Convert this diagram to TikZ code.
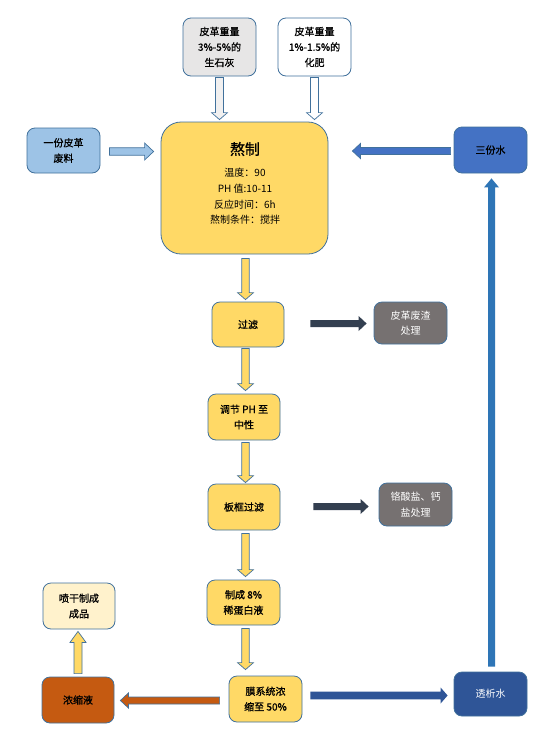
\documentclass[tikz,border=0pt]{standalone}
\usepackage{fontspec}
\setmainfont{Noto Sans CJK SC}[FakeBold=0.9]
\newfontfamily\plainf{Noto Sans CJK SC}
\usetikzlibrary{calc}
\definecolor{bd}{HTML}{41719C}
\definecolor{yel}{HTML}{FFD966}
\definecolor{lgray}{HTML}{E7E6E6}
\definecolor{lblue}{HTML}{9DC3E6}
\definecolor{mblue}{HTML}{4472C4}
\definecolor{dblue}{HTML}{2F5597}
\definecolor{vblue}{HTML}{2E75B6}
\definecolor{navy}{HTML}{333F50}
\definecolor{gbox}{HTML}{767171}
\definecolor{brown}{HTML}{C55A11}
\definecolor{cream}{HTML}{FFF2CC}
\newcommand\blockarrow[6]{%
 \path[#1] let \p1=(#2), \p2=(#3), \n1={veclen(\x2-\x1,\y2-\y1)}, \n2={(\x2-\x1)/\n1}, \n3={(\y2-\y1)/\n1}, \n4={\n1-#6} in
 ({\x1-#4*\n3},{\y1+#4*\n2}) --
 ({\x1+\n4*\n2-#4*\n3},{\y1+\n4*\n3+#4*\n2}) --
 ({\x1+\n4*\n2-#5*\n3},{\y1+\n4*\n3+#5*\n2}) --
 (\p2) --
 ({\x1+\n4*\n2+#5*\n3},{\y1+\n4*\n3-#5*\n2}) --
 ({\x1+\n4*\n2+#4*\n3},{\y1+\n4*\n3-#4*\n2}) --
 ({\x1+#4*\n3},{\y1-#4*\n2}) -- cycle;}
\tikzset{
 box/.style={draw=bd, line width=0.8pt, rounded corners=8pt, align=center, inner sep=0pt,
   font=\fontsize{10}{15.5}\selectfont, text=black, minimum width=73pt, minimum height=46pt},
 wbox/.style={box, text=white, font=\plainf\fontsize{10}{15.5}\selectfont},
 arr/.style={draw=bd, line width=0.7pt, line join=miter},
 flat/.style={line join=miter}
}
\begin{document}
\begin{tikzpicture}[x=1pt,y=-1pt]
\fill[white] (0,0) rectangle (533,729);
\useasboundingbox (0,0) rectangle (533,729);
% nodes
\node[box, fill=lgray, minimum height=58pt] (lime) at (219.5,47) {皮革重量\\3\%-5\%的\\生石灰};
\node[box, fill=white, minimum height=58pt] (fert) at (314.5,47) {皮革重量\\1\%-1.5\%的\\化肥};
\node[box, fill=lblue, minimum height=45pt] (waste) at (63.5,150.5) {一份皮革\\废料};
\node[box, fill=yel, rounded corners=20pt, minimum width=167pt, minimum height=132pt] (main) at (244.5,188) {};
\node[font=\fontsize{15}{17}\selectfont] (maintitle) at (245,149) {熬制};
\node[align=center, font=\plainf\fontsize{10}{15.7}\selectfont, inner sep=0pt] (mainbody) at (245,196.5) {温度：90\\PH 值:10-11\\反应时间：6h\\熬制条件：搅拌};
\node[box, fill=mblue] (water3) at (490.5,150) {三份水};
\node[box, fill=yel, minimum width=72pt, minimum height=45pt] (gl) at (248,324.5) {过滤};
\node[wbox, fill=gbox, minimum height=42pt] (slag) at (410.5,323) {皮革废渣\\处理};
\node[box, fill=yel, minimum width=72pt] (ph) at (244,417) {调节 PH 至\\中性};
\node[box, fill=yel, minimum width=72pt] (bk) at (244,507) {板框过滤};
\node[wbox, fill=gbox, minimum height=43pt] (cr) at (415.5,504.5) {铬酸盐、钙\\盐处理};
\node[box, fill=yel, minimum height=45pt] (make8) at (243.5,602.5) {制成 8\%\\稀蛋白液};
\node[box, fill=yel] (mem) at (265.5,699) {膜系统浓\\缩至 50\%};
\node[box, fill=brown, minimum width=72pt] (conc) at (78,700) {浓缩液};
\node[box, fill=cream, minimum width=72pt] (spray) at (79,606) {喷干制成\\成品};
\node[wbox, fill=dblue, minimum height=44pt] (dial) at (490.5,694) {透析水};
% arrow end points
\coordinate (a1s) at ($(lime.south)+(0,-1pt)$);
\coordinate (a1e) at ($(main.north -| a1s)+(0,2pt)$);
\coordinate (a2s) at ($(fert.south)+(0,-1pt)$);
\coordinate (a2e) at ($(main.north -| a2s)+(0,2pt)$);
\coordinate (a3s) at ($(waste.east)+(9pt,-1pt)$);
\coordinate (a3e) at ($(main.west |- a3s)+(-7pt,0)$);
\coordinate (a4s) at ($(water3.west)+(-3pt,-1pt)$);
\coordinate (a4e) at ($(main.east |- a4s)+(24pt,0)$);
\coordinate (a5s) at ($(main.south)+(1pt,-4pt)$);
\coordinate (a5e) at ($(gl.north -| a5s)+(0,2pt)$);
\coordinate (a6s) at ($(gl.south -| a5s)+(0,-1pt)$);
\coordinate (a6e) at ($(ph.north -| a5s)+(0,3pt)$);
\coordinate (a7s) at ($(ph.south -| a5s)+(0,-2pt)$);
\coordinate (a7e) at ($(bk.north -| a5s)+(0,1pt)$);
\coordinate (a8s) at ($(bk.south -| a5s)+(0,-3pt)$);
\coordinate (a8e) at ($(make8.north -| a5s)+(0,3pt)$);
\coordinate (a9s) at ($(make8.south -| a5s)+(0,-3pt)$);
\coordinate (a9e) at ($(mem.north -| a5s)+(0,6pt)$);
\coordinate (a10s) at ($(gl.east)+(26pt,1pt)$);
\coordinate (a10e) at ($(slag.west |- a10s)+(-7pt,0)$);
\coordinate (a11s) at ($(bk.east)+(33pt,0.5pt)$);
\coordinate (a11e) at ($(cr.west |- a11s)+(-10pt,0)$);
\coordinate (a12s) at ($(mem.west)+(-9pt,-1.5pt)$);
\coordinate (a12e) at ($(conc.east |- a12s)+(6pt,0)$);
\coordinate (a13s) at ($(conc.north)+(0,3pt)$);
\coordinate (a13e) at ($(spray.south -| a13s)+(0,-2pt)$);
\coordinate (a14s) at ($(mem.east)+(8pt,3.5pt)$);
\coordinate (a14e) at ($(dial.west |- a14s)+(-6pt,0)$);
\coordinate (a15s) at ($(dial.north)+(1pt,5pt)$);
\coordinate (a15e) at ($(water3.south -| a15s)+(0,-5pt)$);
% arrows
\blockarrow{arr, fill=lgray!60!white}{a1s}{a1e}{4}{8}{7}
\blockarrow{arr, fill=white}{a2s}{a2e}{4}{8}{7}
\blockarrow{arr, fill=lblue}{a3s}{a3e}{3.7}{8.5}{9}
\blockarrow{arr, fill=mblue}{a4s}{a4e}{3.5}{7.5}{8}
\blockarrow{arr, fill=yel}{a5s}{a5e}{3.7}{8}{7}
\blockarrow{arr, fill=yel}{a6s}{a6e}{3.7}{8}{7}
\blockarrow{arr, fill=yel}{a7s}{a7e}{3.7}{8}{7}
\blockarrow{arr, fill=yel}{a8s}{a8e}{3.7}{8}{7}
\blockarrow{arr, fill=yel}{a9s}{a9e}{3.7}{8}{7}
\blockarrow{flat, fill=navy}{a10s}{a10e}{3.5}{7.5}{8}
\blockarrow{flat, fill=navy}{a11s}{a11e}{3.5}{7.5}{8}
\blockarrow{arr, fill=brown}{a12s}{a12e}{3.5}{7.5}{8}
\blockarrow{arr, fill=yel}{a13s}{a13e}{4}{8}{11}
\blockarrow{flat, fill=dblue}{a14s}{a14e}{3.8}{8}{7}
\blockarrow{flat, fill=vblue}{a15s}{a15e}{3.5}{7.5}{9}
\end{tikzpicture}
\end{document}
